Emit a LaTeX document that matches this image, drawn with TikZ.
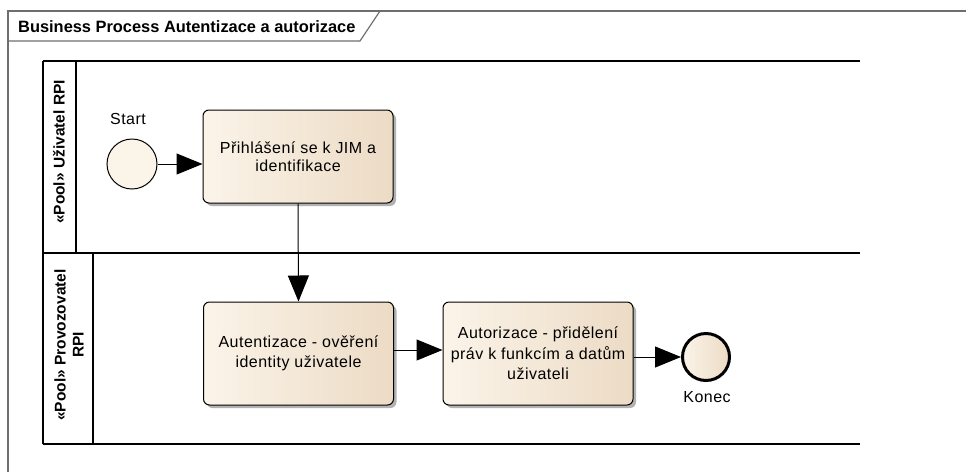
\documentclass[tikz,border=0pt]{standalone}
\usepackage{fontspec}
\setmainfont{Liberation Sans}
\newfontfamily\dgspaced[LetterSpace=3]{Liberation Sans}
\usetikzlibrary{arrows.meta,shadows}

\definecolor{tlight}{HTML}{FBF4E9}
\definecolor{tdark}{HTML}{ECDBC5}
\definecolor{framegray}{HTML}{6E6E6E}
\newcommand\dgbody{\dgspaced\fontsize{16}{18}\selectfont}
\newcommand\dgbodywide{\dgspaced\fontsize{16}{20.5}\selectfont}
\newcommand\dgpool{\fontsize{15.5}{18}\selectfont\bfseries}
\newcommand\dgtitle{\fontsize{16.4}{18}\selectfont\bfseries}

\begin{document}
\begin{tikzpicture}[x=1pt,y=-1pt,
  frameline/.style={draw=framegray, line width=1.2pt},
  poolline/.style={draw=black, line width=1.6pt},
  task/.style={draw=black, line width=1pt, rounded corners=6pt,
    minimum width=190pt, minimum height=93pt, align=center,
    left color=tlight, middle color=tlight, right color=tdark,
    drop shadow={shadow xshift=3pt, shadow yshift=-3pt, fill=black!30, opacity=1},
    font=\dgbody},
  lowtask/.style={task, minimum height=103pt, font=\dgbodywide},
  startev/.style={circle, draw=black, line width=1pt, minimum size=50pt,
    inner sep=0pt, fill=tlight},
  endev/.style={circle, draw=black, line width=3pt, minimum size=47pt,
    inner sep=0pt, left color=tlight, middle color=tlight, right color=tdark},
  flow/.style={draw=black, line width=1pt,
    -{Triangle[length=26pt, width=21pt]}},
  lbl/.style={font=\dgbody, inner sep=0pt},
  poollbl/.style={font=\dgpool, rotate=90, align=center, inner sep=0pt}
]
\useasboundingbox (0,0) rectangle (966,472);

% diagram frame with its title tab
\draw[frameline] (8,472) -- (8,11) -- (966,11);
\draw[frameline] (8,41) -- (360,41) -- (380,11);
\node[anchor=base west, font=\dgtitle, inner sep=0pt] (title) at (18,32)
  {Business Process Autentizace a autorizace};

% pools
\draw[poolline] (43,61) -- (860,61);
\draw[poolline] (43,253) -- (860,253);
\draw[poolline] (43,444) -- (860,444);
\draw[poolline] (43,61) -- (43,444);
\draw[poolline] (76,61) -- (76,253);
\draw[poolline] (93,253) -- (93,444);
\node[poollbl] (poolA) at (59,152) {«Pool» Uživatel RPI};
\node[poollbl] (poolB) at (69,345) {«Pool» Provozovatel\\RPI};

% events and tasks
\node[startev] (start) at (132,164) {};
\node[lbl] (startlbl) at (128,119) {Start};
\node[task] (login) at (298,156.5) {Přihlášení se k JIM a\\identifikace};
\node[lowtask] (authn) at (298.5,353.5)
  {Autentizace - ověření\\identity uživatele};
\node[lowtask] (authz) at (538,353.5)
  {Autorizace - přidělení\\práv k funkcím a datům\\uživateli};
\node[endev] (end) at (706,357) {};
\node[lbl] (endlbl) at (707,397) {Konec};

% sequence flows
\draw[flow] (start.east) -- (start -| login.west);
\draw[flow] (login.south) -- (authn.north);
\draw[flow] (authn.east |- 0,350) -- (authz.west |- 0,350);
\draw[flow] (authz.east |- end) -- (end.west);
\end{tikzpicture}
\end{document}
